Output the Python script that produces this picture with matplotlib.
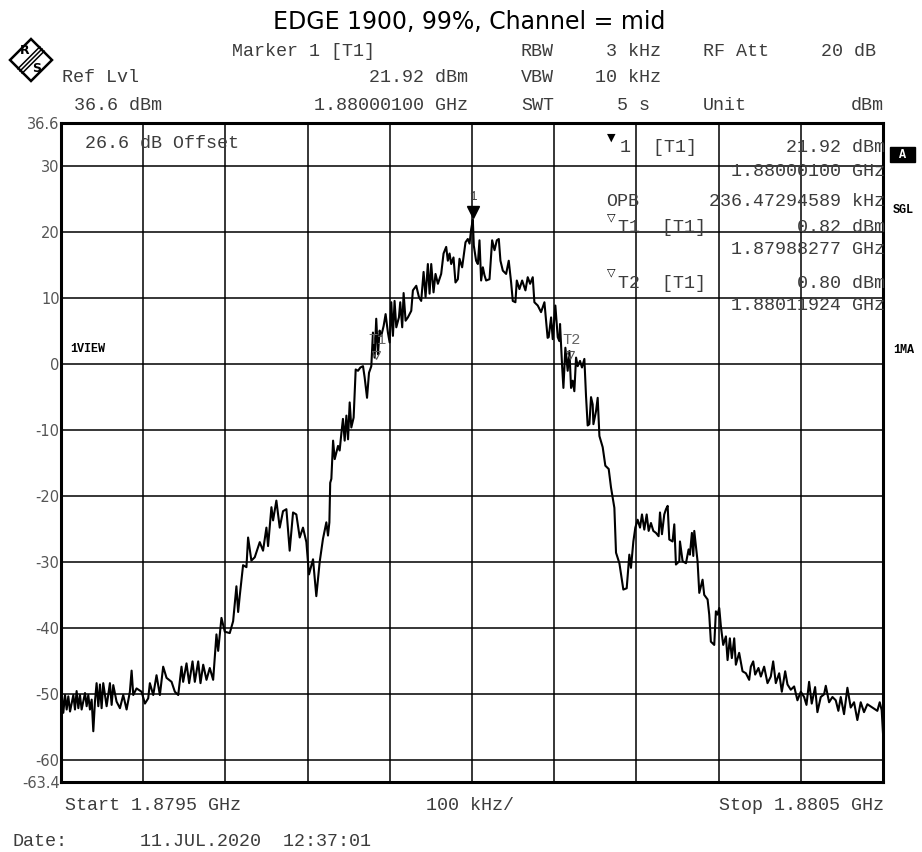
import matplotlib
matplotlib.use("Agg")
import matplotlib.pyplot as plt
from matplotlib.patches import Polygon, Rectangle
from matplotlib.lines import Line2D

plt.rcParams['axes.unicode_minus'] = False

# trace: offset from start (kHz) and level (dBm)
freq_khz = [0.0, 0.8, 2.8, 4.9, 6.9, 8.9, 11.0, 15.0, 17.0, 19.0, 21.1, 23.1, 25.1, 29.2, 31.2,
            33.2, 35.2, 37.3, 39.3, 41.3, 43.3, 45.4, 47.4, 49.4, 51.4, 55.5, 59.5, 61.6, 63.6,
            67.6, 71.7, 75.7, 79.8, 83.8, 85.9, 87.9, 91.9, 98.0, 102.1, 106.1, 108.1, 112.2,
            116.2, 120.3, 124.3, 128.4, 134.5, 138.5, 142.6, 146.6, 148.6, 152.7, 155.9, 160.0,
            162.8, 166.9, 169.7, 173.0, 177.0, 181.0, 185.1, 189.1, 191.2, 195.2, 199.3, 205.3,
            209.4, 213.4, 215.5, 217.5, 221.5, 225.6, 227.6, 231.6, 235.7, 241.8, 245.8, 249.9,
            251.9, 256.0, 258.0, 262.0, 266.1, 270.1, 274.2, 278.2, 282.3, 286.3, 290.4, 294.4,
            298.5, 301.7, 306.6, 310.6, 314.7, 318.7, 322.8, 324.8, 326.5, 327.5, 328.9, 331.0,
            333.0, 337.0, 339.0, 341.0, 343.0, 345.1, 347.2, 349.2, 351.2, 353.2, 356.0, 358.5,
            361.3, 364.2, 367.4, 369.4, 372.3, 374.7, 377.5, 379.5, 381.5, 383.5, 385.6, 387.6,
            389.6, 392.5, 394.9, 397.7, 399.8, 401.8, 403.8, 405.8, 407.9, 411.1, 412.7, 415.1,
            416.8, 419.2, 422.0, 426.1, 428.1, 432.2, 435.4, 438.2, 441.1, 443.5, 446.3, 448.4,
            450.4, 453.2, 455.6, 458.5, 462.5, 465.4, 468.6, 470.6, 472.7, 474.7, 477.5, 479.9,
            482.8, 484.8, 488.0, 492.1, 494.9, 497.0, 499.0, 501.0, 502.2, 505.0, 507.1, 509.1,
            511.1, 513.2, 515.2, 517.2, 521.3, 524.5, 527.4, 530.2, 532.6, 534.6, 537.5, 541.5,
            544.7, 547.6, 549.6, 552.8, 554.5, 557.7, 561.0, 565.0, 567.8, 570.7, 573.9, 575.9,
            580.0, 584.0, 588.1, 590.1, 592.0, 593.3, 596.2, 598.2, 601.4, 604.3, 606.3, 607.1,
            609.5, 611.2, 613.6, 616.4, 618.5, 620.5, 622.5, 624.5, 626.6, 628.6, 631.4, 633.8,
            636.7, 638.7, 640.7, 642.8, 644.8, 646.8, 647.7, 650.9, 652.9, 655.0, 659.0, 662.2,
            666.3, 669.1, 673.2, 675.2, 679.3, 684.1, 688.2, 691.4, 693.4, 696.3, 698.7, 701.5,
            704.4, 706.8, 709.6, 712.5, 714.9, 717.7, 720.6, 723.8, 727.0, 728.7, 731.1, 733.9,
            736.0, 738.0, 740.0, 744.0, 746.1, 748.1, 752.2, 753.0, 756.2, 760.3, 763.5, 765.1,
            767.5, 769.2, 770.4, 774.4, 776.5, 780.5, 782.5, 786.6, 788.6, 790.6, 794.7, 796.7,
            798.7, 800.8, 802.8, 805.6, 808.9, 810.9, 813.7, 816.1, 819.0, 821.0, 825.0, 829.1,
            833.2, 837.2, 839.2, 842.1, 844.5, 848.5, 851.4, 855.4, 859.5, 863.5, 866.4, 869.6,
            873.7, 876.9, 881.0, 883.8, 887.8, 891.9, 895.9, 900.0, 904.0, 906.9, 910.1, 913.3,
            917.4, 920.2, 924.3, 928.3, 930.4, 934.4, 938.5, 942.5, 945.7, 948.6, 952.6, 956.7,
            960.7, 964.8, 968.8, 972.9, 976.9, 981.0, 987.1, 993.1, 996.0, 998.4, 1000.0]
level_dbm = [-49.7, -49.7, -52.9, -50.2, -52.4, -50.4, -52.7, -50.2, -52.4, -49.6, -52.2, -50.2,
             -52.4, -49.9, -51.9, -50.2, -52.4, -50.9, -55.7, -51.2, -48.4, -51.9, -48.6, -52.2,
             -48.4, -51.9, -48.4, -51.7, -48.7, -51.2, -52.2, -50.2, -52.4, -49.7, -46.5, -50.2,
             -49.2, -49.7, -51.5, -50.7, -48.4, -50.2, -47.2, -50.2, -45.9, -47.6, -48.2, -49.7,
             -50.2, -45.9, -48.2, -45.4, -48.4, -45.1, -48.2, -45.1, -48.4, -45.6, -47.9, -46.1,
             -47.9, -41.0, -43.5, -38.5, -40.6, -40.8, -39.0, -33.7, -37.6, -35.1, -30.5, -30.8,
             -26.3, -29.8, -29.3, -27.0, -28.3, -24.8, -27.6, -21.7, -23.7, -20.7, -24.8, -22.3,
             -22.0, -28.3, -22.5, -22.8, -26.3, -24.8, -27.0, -31.9, -29.6, -35.2, -30.0, -26.5,
             -24.0, -26.0, -24.0, -18.0, -17.4, -11.6, -14.4, -12.4, -13.1, -10.6, -8.3, -11.6,
             -7.8, -11.4, -5.8, -9.6, -8.1, -0.8, -1.0, -0.5, -0.3, -2.0, -5.1, -1.3, -0.3, 4.8,
             1.0, 6.9, 1.5, 5.1, 4.3, 5.8, 7.6, 4.8, 3.3, 9.4, 4.3, 9.6, 5.6, 7.1, 9.4, 5.6, 10.8,
             6.6, 7.1, 8.1, 11.2, 11.9, 10.2, 9.6, 14.0, 10.2, 15.2, 10.7, 15.2, 10.9, 13.7, 12.2,
             13.7, 16.8, 17.8, 15.7, 16.8, 15.2, 16.2, 12.4, 12.9, 16.0, 14.7, 18.5, 19.0, 18.3,
             20.5, 21.92, 18.0, 15.7, 15.2, 18.8, 12.7, 14.7, 13.5, 12.7, 12.9, 18.8, 17.3, 18.8,
             19.0, 15.7, 14.2, 13.7, 15.7, 12.4, 9.6, 9.4, 12.7, 11.4, 12.7, 11.2, 13.2, 12.2,
             13.2, 9.4, 8.9, 7.9, 9.4, 6.6, 4.0, 4.1, 7.1, 3.8, 8.9, 4.1, 3.5, 6.1, 0.0, -3.6,
             2.5, -1.0, 2.0, -3.6, -2.5, -4.1, 1.0, -0.3, 0.5, -0.5, 0.8, -4.8, -9.3, -9.1, -5.0,
             -6.1, -9.1, -7.1, -5.1, -10.9, -12.6, -15.4, -15.9, -18.7, -21.8, -28.6, -30.2,
             -34.2, -34.0, -28.9, -30.9, -26.9, -24.8, -23.6, -24.8, -22.8, -25.1, -22.8, -25.3,
             -24.1, -25.3, -25.6, -26.1, -22.5, -25.8, -22.8, -22.0, -21.5, -26.6, -26.9, -24.3,
             -30.4, -29.9, -26.9, -29.9, -30.2, -28.1, -28.9, -25.6, -29.1, -25.3, -29.9, -34.7,
             -32.7, -35.0, -35.7, -38.0, -42.1, -42.6, -37.5, -38.0, -37.0, -39.8, -42.6, -41.3,
             -44.9, -41.6, -44.6, -41.6, -45.6, -43.8, -46.6, -46.9, -47.9, -45.9, -45.1, -47.1,
             -46.1, -47.4, -45.9, -48.4, -47.4, -45.1, -48.4, -46.9, -49.7, -46.6, -48.6, -49.4,
             -48.9, -51.0, -49.7, -50.5, -51.7, -48.2, -51.5, -49.0, -52.8, -50.5, -50.1, -48.8,
             -51.3, -50.5, -51.0, -52.6, -50.5, -53.1, -49.1, -52.1, -51.3, -54.0, -51.3, -52.8,
             -51.6, -52.1, -52.6, -51.3, -52.5, -56.0]

y_ticks = [36.6, 30, 20, 10, 0, -10, -20, -30, -40, -50, -60, -63.4]
y_labels = ["36.6", "30", "20", "10", "0", "-10", "-20", "-30", "-40", "-50", "-60", "-63.4"]
x_grid = [100, 200, 300, 400, 500, 600, 700, 800, 900]

marker1 = (501.0, 21.92)
marker_t1 = (382.77, 0.82)
marker_t2 = (619.24, 0.80)

W, H = 922, 852
MONO = "Liberation Mono"
TXT = "#3c3c3c"
FS = 13.2


def fx(x):
    return x / W


def fy(y):
    return 1 - y / H


fig = plt.figure(figsize=(W / 100, H / 100), dpi=100)
ax = fig.add_axes([fx(61), fy(782), 822 / W, 659 / H])

for yv in y_ticks[1:-1]:
    ax.axhline(yv, color="black", lw=1.1, zorder=1)
for xv in x_grid:
    ax.axvline(xv, color="black", lw=1.1, zorder=1)

ax.plot(freq_khz, level_dbm, color="black", lw=1.5, zorder=3)

ax.set_xlim(0, 1000)
ax.set_ylim(-63.4, 36.6)
ax.set_xticks([])
ax.set_yticks(y_ticks)
ax.set_yticklabels(y_labels, fontsize=10.5, color="#555555", family="DejaVu Sans")
ax.tick_params(axis="y", length=0, pad=1)
for s in ax.spines.values():
    s.set_linewidth(2.2)

# markers on the trace
ax.plot(marker1[0], marker1[1] + 1.2, marker="v", ms=9, color="black", zorder=4)
ax.text(marker1[0], marker1[1] + 2.6, "1", ha="center", va="bottom", fontsize=9,
        family=MONO, color=TXT)
for (mx, my), lab in [(marker_t1, "T1"), (marker_t2, "T2")]:
    ax.plot(mx, my + 0.6, marker="v", ms=6, mfc="none", mec="#555555", mew=0.8, zorder=4)
    ax.text(mx + 2, my + 1.8, lab, ha="center", va="bottom", fontsize=11,
            family=MONO, color="#666666", zorder=4)

# title
fig.text(fx(469), fy(22), "EDGE 1900, 99%, Channel = mid", ha="center", va="center",
         fontsize=17, family="DejaVu Sans", color="black")

# R&S logo
cx, cy, r = 31, 60, 21
fig.patches.append(Polygon([(fx(cx), fy(cy - r)), (fx(cx + r), fy(cy)), (fx(cx), fy(cy + r)),
                            (fx(cx - r), fy(cy))], closed=True, fill=False, lw=1.8,
                           ec="black", transform=fig.transFigure))
for d in (-2.2, 0, 2.2):
    fig.lines.append(Line2D([fx(42 + d), fx(20 + d)], [fy(49 + d), fy(71 + d)], lw=1.1,
                            color="black", transform=fig.transFigure))
fig.text(fx(25), fy(51), "R", ha="center", va="center", fontsize=9, family="DejaVu Sans",
         weight="bold")
fig.text(fx(37), fy(69), "S", ha="center", va="center", fontsize=9, family="DejaVu Sans",
         weight="bold")

# header block
header = [
    (232, 51, "Marker 1 [T1]", "left"), (521, 51, "RBW", "left"), (661, 51, "3 kHz", "right"),
    (703, 51, "RF Att", "left"), (876, 51, "20 dB", "right"),
    (62, 78, "Ref Lvl", "left"), (468, 78, "21.92 dBm", "right"), (521, 78, "VBW", "left"),
    (661, 78, "10 kHz", "right"),
    (74, 105, "36.6 dBm", "left"), (468, 105, "1.88000100 GHz", "right"),
    (521, 105, "SWT", "left"), (650, 105, "5 s", "right"), (703, 105, "Unit", "left"),
    (884, 105, "dBm", "right"),
]
for x, y, s, ha in header:
    fig.text(fx(x), fy(y), s, ha=ha, va="center", fontsize=FS, family=MONO, color=TXT)

# marker info inside the grid
info = [
    (620, 147, "1  [T1]", "left"), (885, 147, "21.92 dBm", "right"),
    (885, 172, "1.88000100 GHz", "right"),
    (606, 202, "OPB", "left"), (885, 202, "236.47294589 kHz", "right"),
    (618, 227, "T1  [T1]", "left"), (885, 227, "0.82 dBm", "right"),
    (885, 250, "1.87988277 GHz", "right"),
    (618, 283, "T2  [T1]", "left"), (885, 283, "0.80 dBm", "right"),
    (885, 306, "1.88011924 GHz", "right"),
    (85, 143, "26.6 dB Offset", "left"),
]
for x, y, s, ha in info:
    fig.text(fx(x), fy(y), s, ha=ha, va="center", fontsize=FS, family=MONO, color=TXT,
             zorder=5)
fig.text(fx(611), fy(138), "\u25bc", ha="center", va="center", fontsize=8, family="DejaVu Sans")
for y in (217, 272):
    fig.text(fx(611), fy(y), "\u25bd", ha="center", va="center", fontsize=8,
             family="DejaVu Sans")

# side labels
fig.text(fx(70), fy(349), "1VIEW", ha="left", va="center", fontsize=8.5, family=MONO,
         weight="bold")
fig.patches.append(Rectangle((fx(890), fy(162)), 25 / W, 15 / H, color="black",
                             transform=fig.transFigure))
fig.text(fx(902.5), fy(155), "A", ha="center", va="center", fontsize=8.5, family=MONO,
         weight="bold", color="white")
fig.text(fx(893), fy(210), "SGL", ha="left", va="center", fontsize=8.5, family=MONO,
         weight="bold")
fig.text(fx(893), fy(350), "1MA", ha="left", va="center", fontsize=8.5, family=MONO,
         weight="bold")

# footer
fig.text(fx(65), fy(806), "Start 1.8795 GHz", ha="left", va="center", fontsize=FS,
         family=MONO, color=TXT)
fig.text(fx(470), fy(806), "100 kHz/", ha="center", va="center", fontsize=FS,
         family=MONO, color=TXT)
fig.text(fx(884), fy(806), "Stop 1.8805 GHz", ha="right", va="center", fontsize=FS,
         family=MONO, color=TXT)
fig.text(fx(12), fy(841), "Date:", ha="left", va="center", fontsize=FS, family=MONO,
         color=TXT)
fig.text(fx(140), fy(841), "11.JUL.2020  12:37:01", ha="left", va="center", fontsize=FS,
         family=MONO, color=TXT)

fig.savefig("out.png", dpi=100)
